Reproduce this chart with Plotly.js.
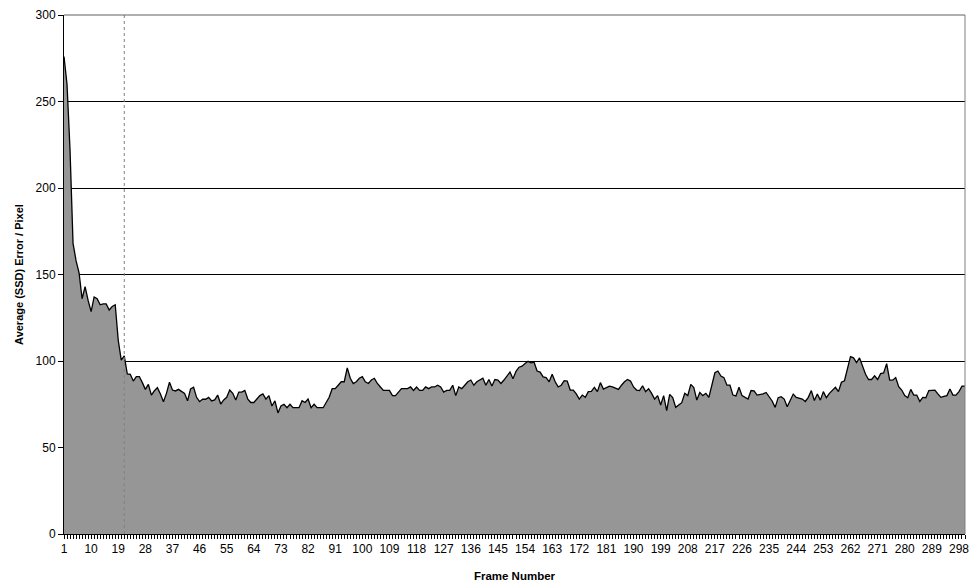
<!DOCTYPE html>
<html>
<head>
<meta charset="utf-8">
<script src="https://cdn.plot.ly/plotly-3.0.1.min.js"></script>
<style>html,body{margin:0;padding:0;background:#fff;}#chart{width:972px;height:584px;}</style>
</head>
<body>
<div id="chart"></div>
<script>
// Average SSD error per pixel, frames 1..300
const errorA = [276,260,222,168,158,151,136,143,135,128.5,137,136,132.5,133,133,129.5,131.5,132.5,112,100.5,
  103,92.5,92.3,88.4,91,91,87.5,83.6,86.5,80.3,82.8,84.6,80.9,76.5,81.3,87.7,83.2,82.7,83.6,82.3,
  81.3,77,83.8,84.8,79,76.5,77.9,77.9,79,76.9,77.5,80.3,75.1,77.5,79,83.2,81.3,77.5];
const errorB = [82,82,83,78,76,76,78,80,81,78,80,74,77,70,74,75,73,75,73,73,73,77,76,78,73,75,73,73,73,76,
  79,84,84,86,88,88,96,90,87,88,90,91,88,87,89,90,87,85,83,83,83,80,80,82,84,84,84,85,83,85,
  83,83,85,84,85,85,86,85,82,83,83,86,80,85,84,86,88,89,86,88,89,90,86];
const errorC = [89.3,85.5,89.3,89,87,89,91,93.6,89.7,94,96.4,97,98.5,99.8,98.9,99.3,94.2,93.6,90.8,90.4,
  88,92.3,88,85,86,88.6,88.4,83.2,83.2,81,78,80.3,79,82.3,82.5,84.8,82.3,87.5,83.8,84.5,
  85.5,85,84.2,83.6,86,88,89.3,88.4,85,83.2,82.9,85.7,82.3,84,81.3,78,80,74.6,80,71.3,
  80.7,78.8,73.2,74.5,75.9,81.3,80,86.5,84.6,77.4,81.8,80,81.3,79,86,93.2,94.2,91.3,90.4];
const errorD = [86,86,80.3,79.8,84.8,80,79,78,82.9,82.7,80.3,80.5,81,81.8,79.4,76.9,73.2,78.8,79.4,78,
  73.6,77.5,80.9,79,78.5,78,76.6,79,82.9,77.2,80.9,77.4,82.3,78.8,81.3,83,84.8,82.3,87.7,88.6,
  95,102.5,101.8,99.1,101.8,96.6,92.3,89.3,89.3,91.4,89.3,92.7,93.1,98.5,88.9,88.9,90.4,85.1,83.2,80,
  78.8,83.6,80.3,80.3,76.6,79,78.8,82.9,83,83.2,81,79,79.5,80,83.8,80.3,80.3,82.3,85.5,85.5];
const errorValues = errorA.concat(errorB, errorC, errorD);
const frames = errorValues.map((_, i) => i + 1);
const tickFrames = [1,10,19,28,37,46,55,64,73,82,91,100,109,118,127,136,145,154,163,172,181,190,199,208,217,226,235,244,253,262,271,280,289,298];
const tickLabels = ['1','10','19','28','37','46','55','64','73','82','91','100','109','118','127','136','145','154','163','172','181','190','199','208','217','226','235','244','253','262','271','280','289','298'];
const yTicks = [0,50,100,150,200,250,300];
const markerFrame = 21;

const trace = {
  x: frames, y: errorValues, type: 'scatter', mode: 'lines',
  fill: 'tozeroy', fillcolor: '#969696',
  line: {color: '#000000', width: 1.3},
  hoverinfo: 'x+y'
};

const layout = {
  width: 972, height: 584,
  margin: {l: 64, r: 7, t: 15, b: 50},
  paper_bgcolor: '#ffffff', plot_bgcolor: '#ffffff',
  showlegend: false,
  font: {family: 'Liberation Sans, Arial, sans-serif', color: '#000', size: 11},
  xaxis: {
    range: [1, frames.length], tickmode: 'array', tickvals: tickFrames, ticktext: tickLabels,
    ticks: 'outside', ticklen: 4, tickcolor: '#000', tickwidth: 1,
    minor: {tickmode: 'linear', tick0: 1, dtick: 1, ticks: 'outside', ticklen: 4, tickcolor: '#000', tickwidth: 1},
    showline: true, linecolor: '#000', linewidth: 1, showgrid: false, zeroline: false,
    tickfont: {size: 12},
    title: {text: '<b>Frame Number</b>', font: {size: 11.5}, standoff: 16}
  },
  yaxis: {
    range: [0, 300], tickmode: 'array', tickvals: yTicks,
    ticks: 'outside', ticklen: 5, tickcolor: '#000', tickwidth: 1,
    showline: true, linecolor: '#000', linewidth: 1,
    showgrid: true, gridcolor: '#000', gridwidth: 1, zeroline: false,
    tickfont: {size: 12},
    title: {text: '<b>Average (SSD) Error / Pixel</b>', font: {size: 11}, standoff: 9}
  },
  shapes: [
    {type: 'line', xref: 'x', yref: 'paper', x0: markerFrame, x1: markerFrame, y0: 0, y1: 1,
     line: {color: '#808080', width: 1, dash: 'dot'}, layer: 'above'},
    {type: 'line', xref: 'paper', yref: 'paper', x0: 1, x1: 1, y0: 0, y1: 1,
     line: {color: '#808080', width: 1}, layer: 'above'},
    {type: 'line', xref: 'paper', yref: 'paper', x0: 0, x1: 1, y0: 1, y1: 1,
     line: {color: '#606060', width: 1}, layer: 'above'}
  ]
};

Plotly.newPlot('chart', [trace], layout, {displayModeBar: false, staticPlot: true});
</script>
</body>
</html>
